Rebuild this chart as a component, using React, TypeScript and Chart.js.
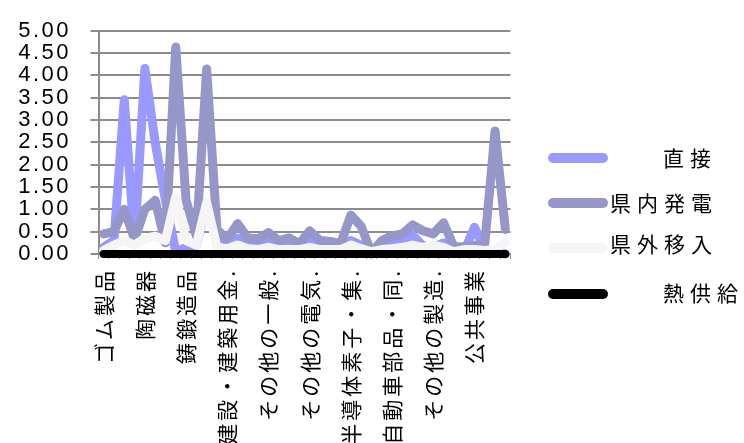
import React, { useEffect, useRef } from 'react';
import { Chart, registerables, CategoryScale, LinearScale } from 'chart.js';

// Category axis that draws its tick labels with extra letter spacing.
class SpacedCategoryScale extends CategoryScale {
  static id = 'spacedCategory';
  drawLabels(chartArea: any) {
    const ctx = this.ctx as any;
    ctx.save();
    ctx.letterSpacing = '3px';
    super.drawLabels(chartArea);
    ctx.restore();
  }
}

// Linear axis with slightly spaced tick labels.
class SpacedLinearScale extends LinearScale {
  static id = 'spacedLinear';
  drawLabels(chartArea: any) {
    const ctx = this.ctx as any;
    ctx.save();
    ctx.letterSpacing = '2.5px';
    super.drawLabels(chartArea);
    ctx.restore();
  }
}

Chart.register(...registerables, SpacedCategoryScale, SpacedLinearScale);

// 40 industry sectors; every fourth one carries a visible label.
const categories = [
  '1', '2', '3', '4', '5', '6', '7', '8', '9', '10',
  '11', '12', '13', '14', '15', '16', '17', '18', '19', '20',
  '21', '22', '23', '24', '25', '26', '27', '28', '29', '30',
  '31', '32', '33', '34', '35', '36', '37', '38', '39', '40',
];

const tickLabels = [
  'ゴム製品',
  '陶磁器',
  '鋳鍛造品',
  '建設・建築用金.',
  'その他の一般.',
  'その他の電気.',
  '半導体素子・集.',
  '自動車部品・同.',
  'その他の製造.',
  '公共事業',
];

const seriesNames = ['直接', '県内発電', '県外移入', '熱供給'];

const direct = [
  0.15, 0.3, 3.45, 0.25, 4.15, 2.5, 1.2, 0.05, 0.15, 0.2,
  1.1, 0.3, 0.3, 0.35, 0.25, 0.25, 0.3, 0.22, 0.25, 0.18,
  0.3, 0.22, 0.22, 0.18, 0.3, 0.2, 0.0, 0.2, 0.28, 0.3,
  0.42, 0.18, 0.15, 0.25, 0.08, 0.05, 0.6, 0.1, 0.05, 0.0,
];

const inPrefGeneration = [
  0.45, 0.5, 1.0, 0.33, 1.0, 1.2, 0.25, 4.63, 1.2, 0.4,
  4.14, 0.55, 0.33, 0.68, 0.36, 0.34, 0.48, 0.3, 0.36, 0.23,
  0.52, 0.3, 0.28, 0.23, 0.87, 0.62, 0.03, 0.3, 0.41, 0.45,
  0.65, 0.52, 0.45, 0.7, 0.16, 0.17, 0.19, 0.23, 2.75, 0.55,
];

const outPrefImport = [
  0.08, 0.2, 0.3, 0.2, 0.35, 0.4, 0.3, 1.28, 0.3, 0.2,
  1.15, 0.15, 0.12, 0.2, 0.12, 0.1, 0.15, 0.1, 0.1, 0.1,
  0.15, 0.1, 0.1, 0.1, 0.2, 0.12, 0.05, 0.1, 0.12, 0.15,
  0.2, 0.15, 0.2, 0.15, 0.05, 0.1, 0.1, 0.08, 0.1, 0.25,
];

const heatSupply = [
  0, 0, 0, 0, 0, 0, 0, 0, 0, 0,
  0, 0, 0, 0, 0, 0, 0, 0, 0, 0,
  0, 0, 0, 0, 0, 0, 0, 0, 0, 0,
  0, 0, 0, 0, 0, 0, 0, 0, 0, 0,
];

const yTicks = { min: 0, max: 5, step: 0.5 };

const seriesColors = ['#9999ff', '#9696c8', '#f5f5f5', '#000000'];

// Legend placement on the right of the plot.
const legendItems = [
  { textX: 663, textY: 158, lineY: 158 },
  { textX: 610, textY: 203, lineY: 203 },
  { textX: 610, textY: 244, lineY: 248 },
  { textX: 663, textY: 293, lineY: 294 },
];

const sideLegend = {
  id: 'sideLegend',
  afterDraw(chart: any) {
    const ctx = chart.ctx;
    chart.data.datasets.forEach((ds: any, i: number) => {
      const item = legendItems[i];
      ctx.save();
      ctx.strokeStyle = ds.borderColor;
      ctx.lineWidth = 10;
      ctx.lineCap = 'round';
      ctx.beginPath();
      ctx.moveTo(553, item.lineY);
      ctx.lineTo(603, item.lineY);
      ctx.stroke();
      ctx.fillStyle = '#000';
      ctx.font = '21px "Noto Sans CJK JP"';
      ctx.letterSpacing = '6px';
      ctx.textAlign = 'left';
      ctx.textBaseline = 'middle';
      ctx.fillText(ds.label, item.textX, item.textY);
      ctx.restore();
    });
  },
};

export default function App() {
  const canvasRef = useRef<HTMLCanvasElement | null>(null);

  useEffect(() => {
    if (!canvasRef.current) return;
    const values = [direct, inPrefGeneration, outPrefImport, heatSupply];
    const chart = new Chart(canvasRef.current, {
      type: 'line',
      data: {
        labels: categories,
        datasets: values.map((data, i) => ({
          label: seriesNames[i],
          data,
          borderColor: seriesColors[i],
          backgroundColor: seriesColors[i],
          borderWidth: i === 3 ? 8 : 9,
          pointRadius: 0,
          tension: 0,
          borderCapStyle: 'round' as const,
          borderJoinStyle: 'round' as const,
          order: 4 - i,
          clip: false as any,
        })),
      },
      options: {
        animation: false,
        responsive: false,
        events: [],
        layout: { padding: { left: 0, top: 22, right: 233.5, bottom: 0 } },
        plugins: {
          legend: { display: false },
          tooltip: { enabled: false },
        },
        scales: {
          x: {
            type: 'spacedCategory' as any,
            offset: true,
            grid: {
              offset: true,
              drawOnChartArea: false,
              drawTicks: true,
              tickLength: 5,
              color: '#8c8c8c',
              lineWidth: 1,
            },
            border: { color: '#8c8c8c', width: 2 },
            ticks: {
              autoSkip: false,
              minRotation: 90,
              maxRotation: 90,
              padding: 9,
              color: '#000',
              font: { family: '"Noto Sans CJK JP"', size: 21 },
              callback: (_v: any, index: number) =>
                index % 4 === 0 ? tickLabels[index / 4] ?? '' : '',
            },
            afterFit: (scale: any) => {
              scale.height = 189;
            },
          },
          y: {
            type: 'spacedLinear' as any,
            min: yTicks.min,
            max: yTicks.max,
            grid: { color: '#8c8c8c', lineWidth: 2, tickLength: 8 },
            border: { color: '#8c8c8c', width: 2 },
            ticks: {
              stepSize: yTicks.step,
              autoSkip: false,
              padding: 19.5,
              color: '#000',
              font: { family: '"Liberation Sans"', size: 22, lineHeight: 1 },
              callback: (v: any) => Number(v).toFixed(2),
            },
            afterFit: (scale: any) => {
              scale.width = 98.5;
            },
          },
        },
      },
      plugins: [sideLegend],
    });
    return () => chart.destroy();
  }, []);

  return (
    <div style={{ position: 'fixed', left: 0, top: 0, width: 744, height: 443, background: '#fff' }}>
      <canvas ref={canvasRef} width={744} height={443} />
    </div>
  );
}
